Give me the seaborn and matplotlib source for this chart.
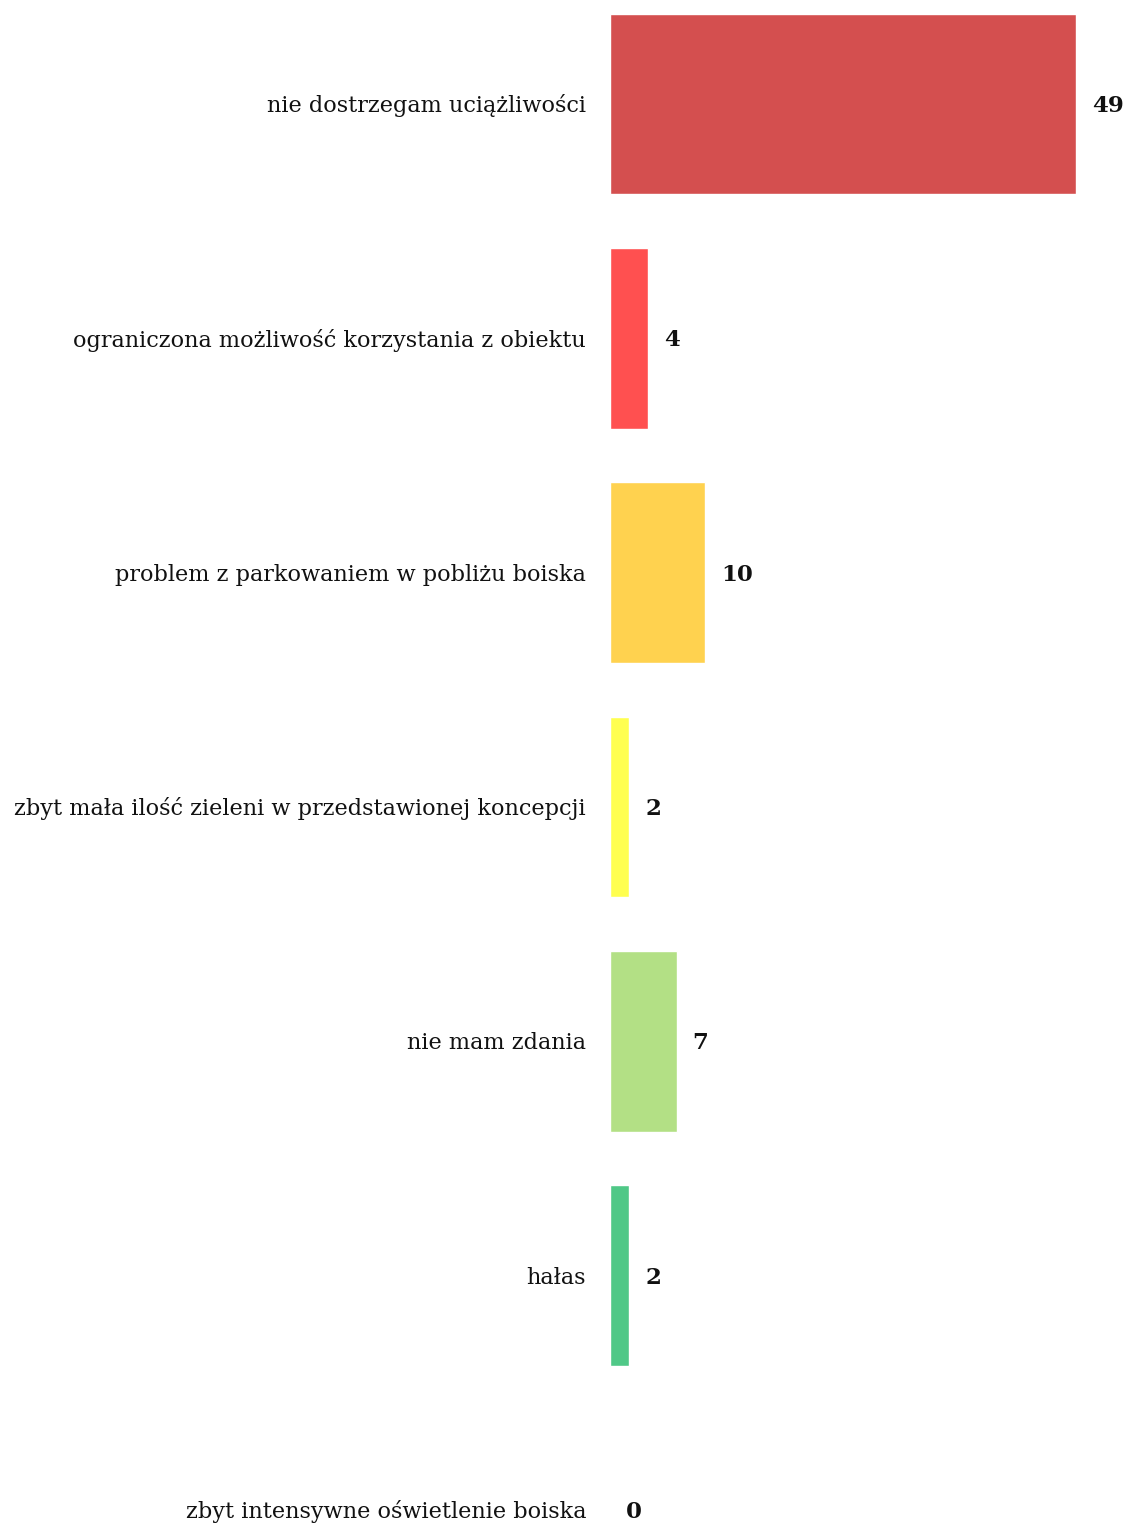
import matplotlib
matplotlib.use("Agg")
import matplotlib.pyplot as plt
import seaborn as sns
import pandas as pd

categories = [
    "nie dostrzegam uciążliwości",
    "ograniczona możliwość korzystania z obiektu",
    "problem z parkowaniem w pobliżu boiska",
    "zbyt mała ilość zieleni w przedstawionej koncepcji",
    "nie mam zdania",
    "hałas",
    "zbyt intensywne oświetlenie boiska",
]
values = [49, 4, 10, 2, 7, 2, 0]
colors = ["#D44F4F", "#FF5050", "#FFD24F", "#FFFF50", "#B3E085", "#4FC887", "#4FC887"]

sns.set_theme(style="white")
plt.rcParams["font.family"] = ["DejaVu Serif"]

W, H = 1127, 1524
fig = plt.figure(figsize=(W / 100, H / 100), dpi=100)
left_px, right_px = 610, 1076
ax = fig.add_axes([left_px / W, 0, (right_px - left_px) / W, 1])

df = pd.DataFrame({"cat": categories, "val": values})
sns.barplot(data=df, x="val", y="cat", hue="cat", palette=colors, legend=False,
            orient="h", width=0.77, saturation=1, ax=ax)

ax.set_xlim(0, 49)
ppu = (1510 - 104) / 6
ax.set_ylim((H - 104) / ppu, -104 / ppu)
ax.axis("off")

for i, (c, v) in enumerate(zip(categories, values)):
    ax.annotate(c, xy=(0, i), xytext=(-24, -2), textcoords="offset pixels",
                ha="right", va="center", fontsize=16.1, color="#111111",
                annotation_clip=False)
    ax.annotate(str(v), xy=(v, i), xytext=(16, -2), textcoords="offset pixels",
                ha="left", va="center", fontsize=16.5, fontweight="bold",
                color="#111111", annotation_clip=False)

fig.savefig("out.png", dpi=100)
